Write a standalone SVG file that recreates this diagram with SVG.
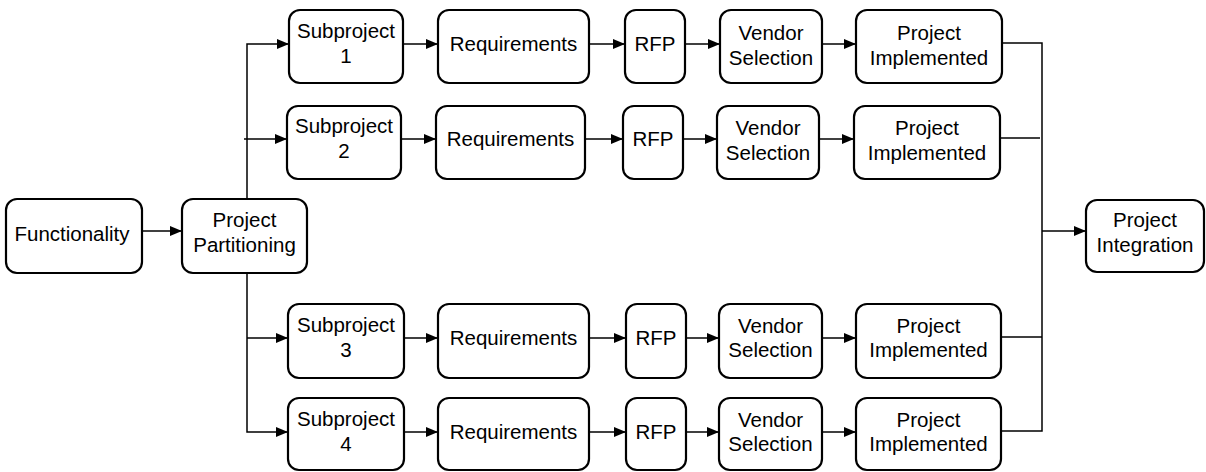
<svg xmlns="http://www.w3.org/2000/svg" width="1206" height="472" viewBox="0 0 1206 472">
<style>
.b{fill:#fff;stroke:#000;stroke-width:2.2}
.t{font-family:"Liberation Sans",Arial,sans-serif;font-size:20.5px;fill:#000;text-anchor:middle}
.c{fill:none;stroke:#000;stroke-width:1.5}
</style>
<defs>
<marker id="ah" markerWidth="12" markerHeight="10" refX="12" refY="5" orient="auto" markerUnits="userSpaceOnUse">
<path d="M0,0 L12,5 L0,10 Z" fill="#000"/>
</marker>
</defs>
<rect width="1206" height="472" fill="#fff"/>
<g id="connectors">
<path class="c" d="M142,231 H182" marker-end="url(#ah)"/>
<path class="c" d="M247,199 V44 H289" marker-end="url(#ah)"/>
<path class="c" d="M244,139 H287" marker-end="url(#ah)"/>
<path class="c" d="M247,273 V432 H288" marker-end="url(#ah)"/>
<path class="c" d="M247,338 H288" marker-end="url(#ah)"/>
<path class="c" d="M403,44 H438" marker-end="url(#ah)"/>
<path class="c" d="M589,44 H625" marker-end="url(#ah)"/>
<path class="c" d="M685,44 H720" marker-end="url(#ah)"/>
<path class="c" d="M822,44 H856" marker-end="url(#ah)"/>
<path class="c" d="M401,139 H436" marker-end="url(#ah)"/>
<path class="c" d="M585,139 H623" marker-end="url(#ah)"/>
<path class="c" d="M683,139 H717" marker-end="url(#ah)"/>
<path class="c" d="M819,139 H854" marker-end="url(#ah)"/>
<path class="c" d="M404,338 H438" marker-end="url(#ah)"/>
<path class="c" d="M589,338 H626" marker-end="url(#ah)"/>
<path class="c" d="M686,338 H719" marker-end="url(#ah)"/>
<path class="c" d="M822,338 H856" marker-end="url(#ah)"/>
<path class="c" d="M404,432 H438" marker-end="url(#ah)"/>
<path class="c" d="M589,432 H626" marker-end="url(#ah)"/>
<path class="c" d="M686,432 H719" marker-end="url(#ah)"/>
<path class="c" d="M822,432 H856" marker-end="url(#ah)"/>
<path class="c" d="M1002,43 H1042 V431 H1001"/>
<path class="c" d="M1000,138 H1040"/>
<path class="c" d="M1001,337 H1042"/>
<path class="c" d="M1042,231 H1086" marker-end="url(#ah)"/>
</g>
<g id="functionality"><rect class="b" x="6" y="199" width="136" height="74" rx="11"/><text class="t" x="72" y="241">Functionality</text></g>
<g id="partitioning"><rect class="b" x="182" y="199" width="125" height="74" rx="11"/><text class="t" x="244.5" y="227">Project</text><text class="t" x="244.5" y="252">Partitioning</text></g>
<g id="integration"><rect class="b" x="1086" y="200" width="118" height="72" rx="11"/><text class="t" x="1145" y="227">Project</text><text class="t" x="1145" y="252">Integration</text></g>

<g id="sub1"><rect class="b" x="289" y="10" width="114" height="73" rx="11"/><text class="t" x="346" y="38">Subproject</text><text class="t" x="346" y="63">1</text></g>
<g id="req1"><rect class="b" x="438" y="10" width="151" height="73" rx="11"/><text class="t" x="513.5" y="51">Requirements</text></g>
<g id="rfp1"><rect class="b" x="625" y="10" width="60" height="73" rx="11"/><text class="t" x="655" y="51">RFP</text></g>
<g id="vendor1"><rect class="b" x="720" y="10" width="102" height="73" rx="11"/><text class="t" x="771" y="40">Vendor</text><text class="t" x="771" y="64.5">Selection</text></g>
<g id="impl1"><rect class="b" x="856" y="10" width="146" height="73" rx="11"/><text class="t" x="929" y="40">Project</text><text class="t" x="929" y="64.5">Implemented</text></g>

<g id="sub2"><rect class="b" x="287" y="106" width="114" height="73" rx="11"/><text class="t" x="344" y="133">Subproject</text><text class="t" x="344" y="158">2</text></g>
<g id="req2"><rect class="b" x="436" y="106" width="149" height="73" rx="11"/><text class="t" x="510.5" y="146">Requirements</text></g>
<g id="rfp2"><rect class="b" x="623" y="106" width="60" height="73" rx="11"/><text class="t" x="653" y="146">RFP</text></g>
<g id="vendor2"><rect class="b" x="717" y="106" width="102" height="73" rx="11"/><text class="t" x="768" y="135">Vendor</text><text class="t" x="768" y="159.5">Selection</text></g>
<g id="impl2"><rect class="b" x="854" y="106" width="146" height="73" rx="11"/><text class="t" x="927" y="135">Project</text><text class="t" x="927" y="159.5">Implemented</text></g>

<g id="sub3"><rect class="b" x="288" y="304" width="116" height="74" rx="11"/><text class="t" x="346" y="332">Subproject</text><text class="t" x="346" y="357">3</text></g>
<g id="req3"><rect class="b" x="438" y="304" width="151" height="74" rx="11"/><text class="t" x="513.5" y="345">Requirements</text></g>
<g id="rfp3"><rect class="b" x="626" y="304" width="60" height="74" rx="11"/><text class="t" x="656" y="345">RFP</text></g>
<g id="vendor3"><rect class="b" x="719" y="304" width="103" height="74" rx="11"/><text class="t" x="770.5" y="332.5">Vendor</text><text class="t" x="770.5" y="357">Selection</text></g>
<g id="impl3"><rect class="b" x="856" y="304" width="145" height="74" rx="11"/><text class="t" x="928.5" y="332.5">Project</text><text class="t" x="928.5" y="357">Implemented</text></g>

<g id="sub4"><rect class="b" x="288" y="398" width="116" height="72" rx="11"/><text class="t" x="346" y="426">Subproject</text><text class="t" x="346" y="450.5">4</text></g>
<g id="req4"><rect class="b" x="438" y="398" width="151" height="72" rx="11"/><text class="t" x="513.5" y="439">Requirements</text></g>
<g id="rfp4"><rect class="b" x="626" y="398" width="60" height="72" rx="11"/><text class="t" x="656" y="439">RFP</text></g>
<g id="vendor4"><rect class="b" x="719" y="398" width="103" height="72" rx="11"/><text class="t" x="770.5" y="426.5">Vendor</text><text class="t" x="770.5" y="451">Selection</text></g>
<g id="impl4"><rect class="b" x="856" y="398" width="145" height="72" rx="11"/><text class="t" x="928.5" y="426.5">Project</text><text class="t" x="928.5" y="451">Implemented</text></g>
</svg>
